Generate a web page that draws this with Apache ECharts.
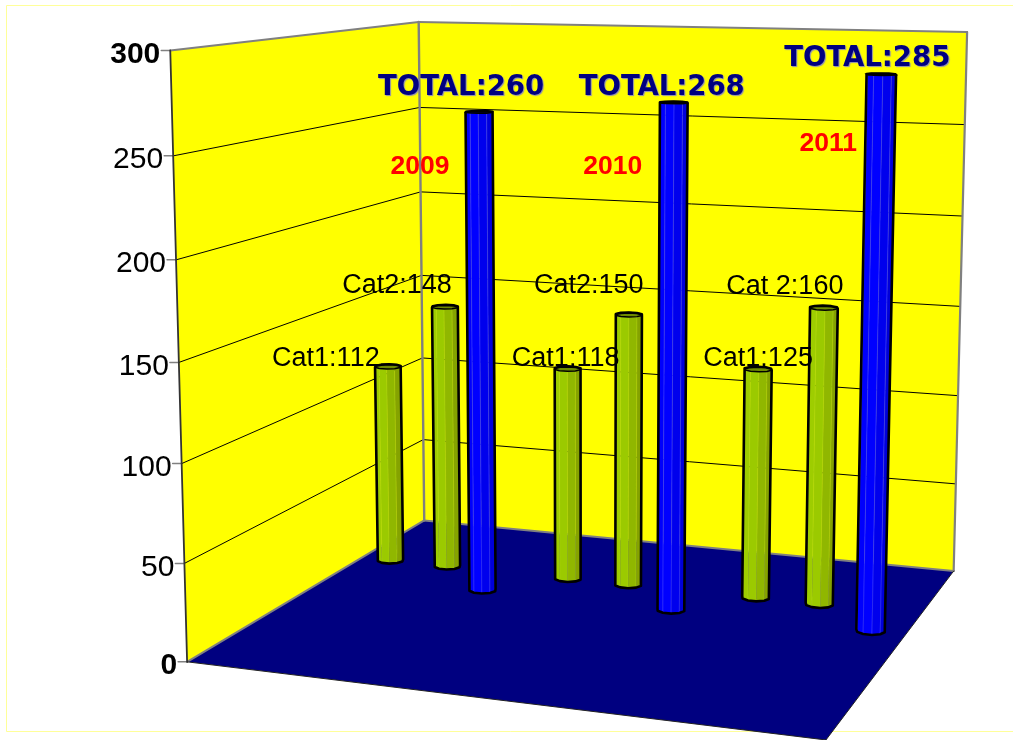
<!DOCTYPE html>
<html><head><meta charset="utf-8"><style>html,body{margin:0;padding:0;background:#fff}#c{width:1013px;height:740px}</style>
<script src="https://cdn.jsdelivr.net/npm/echarts@6/dist/echarts.min.js"></script></head>
<body><div id="c"></div>
<script>
// ---- data ----
const years = ['2009', '2010', '2011'];
const cat1Values = [112, 118, 125];
const cat2Values = [148, 150, 160];
const totalValues = [260, 268, 285];
const cat1Labels = ['Cat1:112', 'Cat1:118', 'Cat1:125'];
const cat2Labels = ['Cat2:148', 'Cat2:150', 'Cat 2:160'];
const totalLabels = ['TOTAL:260', 'TOTAL:268', 'TOTAL:285'];
const tickValues = [0, 50, 100, 150, 200, 250, 300];

// ---- camera: world (x across, h up, z into the room) to screen ----
const CAM = [[561.48168, -23.71684, 334.40189, 187.11246],
             [8.81175, -613.45562, -22.14612, 661.83916],
             [-0.09364, -0.04032, 0.22927, 1]];
function pr(x, h, z) {
  const w = CAM[2][0]*x + CAM[2][1]*h + CAM[2][2]*z + CAM[2][3];
  return [(CAM[0][0]*x + CAM[0][1]*h + CAM[0][2]*z + CAM[0][3]) / w,
          (CAM[1][0]*x + CAM[1][1]*h + CAM[1][2]*z + CAM[1][3]) / w];
}
const GRID = {left: 180, top: 50, width: 770, height: 612};
const MAXV = 300;
// how each bar series sits in its category band
const LAYOUT = {
  cat1: {dx: -0.112, z: 0.697, offs: [[-62,-8],[-2,-10],[0,-11]]},
  cat2: {dx: -0.003, z: 0.697, offs: [[-48,-21],[-40,-29],[-39,-21]]},
  total: {dx: 0.110, z: 0.570, offs: [[-18,-24],[-12,-15],[-14,-16]]},
  year: {offs: [[-59,55],[-61,64],[-53,69]]}
};
const RX = 0.023, RZ = 0.024, FACETS = 10;

function hFrac(api, cs, v) { return (cs.y + cs.height - api.coord([0, v])[1]) / cs.height; }
function xFrac(api, cs, i) { return (api.coord([i, 0])[0] - cs.x) / cs.width; }
function line(a, b, color, width) {
  return {type: 'line', shape: {x1: a[0], y1: a[1], x2: b[0], y2: b[1]}, style: {stroke: color, lineWidth: width, lineCap: 'round'}};
}
function hull(ps) {
  const p = ps.slice().sort((a, b) => a[0] - b[0] || a[1] - b[1]);
  const cr = (o, a, b) => (a[0]-o[0])*(b[1]-o[1]) - (a[1]-o[1])*(b[0]-o[0]);
  const lo = [], up = [];
  for (const q of p) { while (lo.length > 1 && cr(lo[lo.length-2], lo[lo.length-1], q) <= 0) lo.pop(); lo.push(q); }
  for (const q of p.slice().reverse()) { while (up.length > 1 && cr(up[up.length-2], up[up.length-1], q) <= 0) up.pop(); up.push(q); }
  return lo.slice(0, -1).concat(up.slice(0, -1));
}
function ramp(stops, t) {
  const k = Math.min(stops.length - 2, Math.floor((t + 1) / 2 * (stops.length - 1)));
  const f = (t + 1) / 2 * (stops.length - 1) - k;
  const c = stops[k].map((v, j) => Math.round(v + (stops[k+1][j] - v) * f));
  return 'rgb(' + c.join(',') + ')';
}
const GREEN = {ramp: [[150,192,0],[160,208,0],[155,202,0],[146,188,0],[132,160,0]], line: 'rgba(185,220,30,0.35)', top: '#6f8c00'};
const BLUE = {ramp: [[0,0,240],[0,0,255],[0,0,255],[0,0,242],[0,0,215]], line: 'rgba(70,70,255,0.6)', top: '#000050'};

function barSeries(name, values, lay, look) {
  return {
    type: 'custom', name: name, coordinateSystem: 'cartesian2d', clip: false, silent: true,
    data: values.map((v, i) => [i, v]),
    renderItem(params, api) {
      const cs = params.coordSys;
      const h = hFrac(api, cs, api.value(1));
      const cx = xFrac(api, cs, api.value(0)) + lay.dx, cz = lay.z;
      const bot = [], top = [];
      for (let k = 0; k < FACETS; k++) {
        const a = 2 * Math.PI * k / FACETS;
        bot.push(pr(cx + RX * Math.cos(a), 0, cz + RZ * Math.sin(a)));
        top.push(pr(cx + RX * Math.cos(a), h, cz + RZ * Math.sin(a)));
      }
      const kids = [];
      for (let k = 0; k < FACETS; k++) {
        const n = (k + 1) % FACETS, q = [bot[k], bot[n], top[n], top[k]];
        let s = 0;
        for (let j = 0; j < 4; j++) { const m = q[j], o = q[(j+1)%4]; s += m[0]*o[1] - o[0]*m[1]; }
        if (s >= 0) continue;
        const t = Math.cos(2 * Math.PI * (k + 0.5) / FACETS);
        kids.push({type: 'polygon', shape: {points: q}, style: {fill: ramp(look.ramp, t), stroke: look.line, lineWidth: 0.8}});
      }
      kids.push({type: 'polygon', shape: {points: top}, style: {fill: look.top, stroke: '#000', lineWidth: 1.5}});
      kids.push({type: 'polygon', shape: {points: hull(bot.concat(top))}, style: {fill: 'none', stroke: '#000', lineWidth: 2.6, lineJoin: 'round'}});
      return {type: 'group', children: kids};
    }
  };
}
function textSeries(name, values, texts, lay, style) {
  return {
    type: 'custom', name: name, coordinateSystem: 'cartesian2d', clip: false, silent: true,
    data: values.map((v, i) => [i, v]),
    renderItem(params, api) {
      const cs = params.coordSys, i = api.value(0);
      const p = pr(xFrac(api, cs, i) + lay.dx, hFrac(api, cs, api.value(1)), lay.z);
      return {type: 'text', style: Object.assign({text: texts[i], x: p[0] + lay.offs[i][0], y: p[1] + lay.offs[i][1],
        textAlign: 'center', textVerticalAlign: 'middle'}, style)};
    }
  };
}
// the room: three faces and their edges, all through the camera
const faceSeries = {
  type: 'custom', name: 'room', coordinateSystem: 'cartesian2d', clip: false, silent: true,
  data: [[0, 0], [1, 0], [2, 0]],
  renderItem(params, api) {
    const f = [
      {c: [[0,0,0],[0,1,0],[0,1,1],[0,0,1]], fill: '#ffff00'},
      {c: [[0,0,1],[0,1,1],[1,1,1],[1,0,1]], fill: '#ffff00'},
      {c: [[0,0,0],[0,0,1],[1,0,1],[1,0,0]], fill: '#000080'}][api.value(0)];
    return {type: 'polygon', shape: {points: f.c.map(c => pr(c[0], c[1], c[2]))}, style: {fill: f.fill}};
  }
};
const gridSeries = {
  type: 'custom', name: 'gridlines', coordinateSystem: 'cartesian2d', clip: false, silent: true,
  data: tickValues.map(v => [0, v]),
  renderItem(params, api) {
    const v = api.value(1), h = hFrac(api, params.coordSys, v);
    const a = pr(0, h, 0), b = pr(0, h, 1), c = pr(1, h, 1);
    const kids = [line([a[0] - 9, a[1]], a, '#808080', 1.5)];
    if (v > 0 && v < MAXV) kids.push(line(a, b, '#000', 1), line(b, c, '#000', 1));
    return {type: 'group', children: kids};
  }
};
const edgeSeries = {
  type: 'custom', name: 'edges', coordinateSystem: 'cartesian2d', clip: false, silent: true,
  data: [[0, 0]],
  renderItem() {
    const P = (x, h, z) => pr(x, h, z), g = '#808080';
    return {type: 'group', children: [
      line(P(0,0,0), P(0,0,1), g, 2), line(P(0,0,1), P(1,0,1), g, 2),
      line(P(0,0,1), P(0,1,1), g, 2.4), line(P(0,1,0), P(0,1,1), g, 2),
      line(P(0,1,1), P(1,1,1), g, 2), line(P(1,1,1), P(1,0,1), g, 2.2),
      line(P(0,0,0), P(0,1,0), '#333', 1.8),
      line(P(0,0,0), P(1,0,0), '#222', 1), line(P(1,0,0), P(1,0,1), '#222', 1)
    ]};
  }
};
// tick labels on the real value axis, nudged onto the slanted wall edge
const rich = {};
tickValues.forEach(v => {
  const p = pr(0, v / MAXV, 0);
  const linY = GRID.top + GRID.height * (1 - v / MAXV);
  const dy = p[1] + 4 - linY;
  const right = Math.max(0, GRID.left - (p[0] - 10));
  rich['t' + v] = {
    fontFamily: '"Liberation Sans"', fontSize: 30, color: '#000',
    fontWeight: (v === 0 || v === MAXV) ? 'bold' : 'normal',
    padding: [dy > 0 ? 2*dy : 0, right, dy < 0 ? -2*dy : 0, 0]
  };
});
const sans = {font: '27px "Liberation Sans"', fill: '#000'};
const option = {
  animation: false, backgroundColor: '#fff',
  graphic: [{type: 'rect', silent: true, z: -1, shape: {x: 6.5, y: 5.5, width: 1040, height: 726}, style: {fill: 'none', stroke: '#ffff99', lineWidth: 1}}],
  grid: Object.assign({containLabel: false}, GRID),
  xAxis: {type: 'category', data: years, show: false},
  yAxis: {type: 'value', min: 0, max: MAXV, interval: 50,
    axisLine: {show: false}, axisTick: {show: false}, splitLine: {show: false},
    axisLabel: {margin: 0, formatter: v => '{t' + v + '|' + v + '}', rich: rich}},
  series: [
    faceSeries, gridSeries, edgeSeries,
    barSeries('Cat1', cat1Values, LAYOUT.cat1, GREEN),
    barSeries('Cat2', cat2Values, LAYOUT.cat2, GREEN),
    barSeries('TOTAL', totalValues, LAYOUT.total, BLUE),
    textSeries('Cat1 labels', cat1Values, cat1Labels, LAYOUT.cat1, sans),
    textSeries('Cat2 labels', cat2Values, cat2Labels, LAYOUT.cat2, sans),
    textSeries('Total labels', totalValues, totalLabels, LAYOUT.total, {font: 'bold 27.5px "DejaVu Sans"', fill: '#000080', textShadowColor: 'rgba(90,90,255,0.7)', textShadowBlur: 1, textShadowOffsetX: 1, textShadowOffsetY: 1}),
    textSeries('Year labels', totalValues, years, {dx: LAYOUT.total.dx, z: LAYOUT.total.z, offs: LAYOUT.year.offs}, {font: 'bold 26.5px "Liberation Sans"', fill: '#ff0000'})
  ]
};
echarts.init(document.getElementById('c'), null, {renderer: 'canvas', width: 1013, height: 740}).setOption(option);
</script></body></html>
